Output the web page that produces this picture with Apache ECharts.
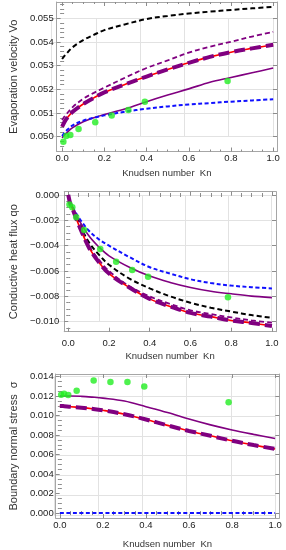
<!DOCTYPE html>
<html><head><meta charset="utf-8">
<script src="https://cdn.jsdelivr.net/npm/echarts@6/dist/echarts.min.js"></script>
<style>html,body{margin:0;padding:0;background:#fff}#c{width:286px;height:550px}</style>
</head><body><div id="c"></div>
<script>
// ---------- data ----------
const knGrid = [0, 0.01, 0.02, 0.05, 0.1, 0.15, 0.2, 0.3, 0.4, 0.5, 0.6, 0.7, 0.8, 0.9, 1.0];
const knData = [0.006, 0.0196, 0.039, 0.078, 0.157, 0.235, 0.314, 0.392, 0.784];

const xTicks = [0, 0.2, 0.4, 0.6, 0.8, 1.0];
const xMinorTicks = [0.05, 0.1, 0.15, 0.25, 0.3, 0.35, 0.45, 0.5, 0.55, 0.65, 0.7, 0.75, 0.85, 0.9, 0.95];

// Panel 1: evaporation velocity
const vTicks = [0.050, 0.051, 0.052, 0.053, 0.054, 0.055];
const vMinorTicks = [0.0496, 0.0498, 0.0502, 0.0504, 0.0506, 0.0508, 0.0512, 0.0514, 0.0516, 0.0518, 0.0522, 0.0524, 0.0526, 0.0528, 0.0532, 0.0534, 0.0536, 0.0538, 0.0542, 0.0544, 0.0546, 0.0548, 0.0552, 0.0554, 0.0556];
const vBlack   = [0.05328, 0.05340, 0.05350, 0.05378, 0.05408, 0.05430, 0.05450, 0.05475, 0.05497, 0.05510, 0.05520, 0.05528, 0.05535, 0.05542, 0.05548];
const vPurDash = [0.05070, 0.05084, 0.05095, 0.05125, 0.05160, 0.05185, 0.05207, 0.05250, 0.05290, 0.05322, 0.05355, 0.05380, 0.05401, 0.05423, 0.05443];
const vRed     = [0.05042, 0.05060, 0.05075, 0.05105, 0.05138, 0.05164, 0.05187, 0.05222, 0.05254, 0.05284, 0.05312, 0.05337, 0.05357, 0.05373, 0.05388];
const vPurple  = [0.04995, 0.05006, 0.05015, 0.05038, 0.05063, 0.05080, 0.05094, 0.05118, 0.05148, 0.05176, 0.05202, 0.05230, 0.05250, 0.05270, 0.05290];
const vBlue    = [0.05003, 0.05015, 0.05025, 0.05048, 0.05068, 0.05080, 0.05090, 0.05106, 0.05118, 0.05128, 0.05136, 0.05142, 0.05148, 0.05153, 0.05158];
const vDots    = [0.04979, 0.05003, 0.05007, 0.05032, 0.05061, 0.05089, 0.05113, 0.05148, 0.05235];

// Panel 2: conductive heat flux
const qTicks = [-0.010, -0.008, -0.006, -0.004, -0.002, 0.000];
const qMinorTicks = [-0.0105, -0.0095, -0.009, -0.0085, -0.0075, -0.007, -0.0065, -0.0055, -0.005, -0.0045, -0.0035, -0.003, -0.0025, -0.0015, -0.001, -0.0005];
const qBlue    = [0, -0.00060, -0.00090, -0.00175, -0.00280, -0.00350, -0.00400, -0.00490, -0.00570, -0.00620, -0.00665, -0.00695, -0.00715, -0.00728, -0.00737];
const qPurple  = [0, -0.00062, -0.00093, -0.00190, -0.00320, -0.00410, -0.00480, -0.00570, -0.00640, -0.00690, -0.00730, -0.00760, -0.00780, -0.00798, -0.00810];
const qBlack   = [0, -0.00065, -0.00098, -0.00210, -0.00370, -0.00470, -0.00550, -0.00660, -0.00737, -0.00800, -0.00850, -0.00890, -0.00920, -0.00948, -0.00970];
const qPurDash = [0, -0.00067, -0.00102, -0.00220, -0.00400, -0.00510, -0.00600, -0.00720, -0.00800, -0.00860, -0.00910, -0.00940, -0.00966, -0.00990, -0.01008];
const qRed     = [0, -0.00070, -0.00106, -0.00230, -0.00410, -0.00530, -0.00620, -0.00730, -0.00820, -0.00880, -0.00930, -0.00960, -0.00990, -0.01010, -0.01034];
const qDots    = [-0.00074, -0.00097, -0.00176, -0.00276, -0.00426, -0.00526, -0.00592, -0.00645, -0.00808];

// Panel 3: boundary normal stress
const sTicks = [0.000, 0.002, 0.004, 0.006, 0.008, 0.010, 0.012, 0.014];
const sMinorTicks = [0.0005, 0.001, 0.0015, 0.0025, 0.003, 0.0035, 0.0045, 0.005, 0.0055, 0.0065, 0.007, 0.0075, 0.0085, 0.009, 0.0095, 0.0105, 0.011, 0.0115, 0.0125, 0.013, 0.0135];
const sPurple  = [0.01202, 0.01202, 0.01202, 0.01202, 0.01198, 0.01190, 0.01180, 0.01150, 0.01092, 0.01032, 0.00965, 0.00905, 0.00853, 0.00808, 0.00766];
const sRed     = [0.01100, 0.01099, 0.01097, 0.01092, 0.01082, 0.01070, 0.01055, 0.01015, 0.00960, 0.00900, 0.00843, 0.00793, 0.00742, 0.00698, 0.00658];
const sBlue    = [0, 0, 0, 0, 0, 0, 0, 0, 0, 0, 0, 0, 0, 0, 0];
const sDots    = [0.01214, 0.01225, 0.01211, 0.01255, 0.01360, 0.01346, 0.01346, 0.01299, 0.01137];

// ---------- layout (pixels) ----------
// frame box, and pixel positions of the first/last major tick on each axis
const panels = [
  { frame: { l: 46, t: 2, r: 277, b: 151.5 }, xPx: [51.7, 273], yPx: [136.7, 18.3],
    xT: xTicks, xM: xMinorTicks, yT: vTicks, yM: vMinorTicks, yStep: 0.001,
    xName: { gap: 16.5, margin: 1.5 }, yName: { text: 'Evaporation velocity Vo', gap: 34, margin: 3 } },
  { frame: { l: 51.7, t: 191.7, r: 276, b: 331.7 }, xPx: [56, 271.7], yPx: [321.7, 195],
    xT: xTicks, xM: xMinorTicks, yT: qTicks, yM: qMinorTicks, yStep: 0.002,
    xName: { gap: 20, margin: 7 }, yName: { text: 'Conductive heat flux qo', gap: 38.5, margin: 5 } },
  { frame: { l: 50, t: 374, r: 279.3, b: 520 }, xPx: [54.3, 275], yPx: [515, 376.7],
    xT: xTicks, xM: xMinorTicks, yT: sTicks, yM: sMinorTicks, yStep: 0.002,
    xName: { gap: 21, margin: 2.5 }, yName: { text: 'Boundary normal stress  \u03C3', gap: 33, margin: 2 } }
];

// ---------- styling ----------
const FONT = 'Liberation Sans';
const FRAME = '#a6a6a6', GRIDC = '#e2e2e2', TICKC = '#8c8c8c';
const PURPLE = '#800080', RED = '#ff0000', BLUE = '#1010ff', BLACK = '#000000', GREEN = '#22ee22';
const fmt3 = v => (v < 0 ? '\u2212' : '') + Math.abs(v).toFixed(3);
const fmt1 = v => v.toFixed(1);

// extend axis range so that major ticks land on given pixels inside the frame
function extent(v0, v1, p0, p1, e0, e1) {
  const k = (v1 - v0) / (p1 - p0);
  return [v0 + (e0 - p0) * k, v0 + (e1 - p0) * k];
}

const grids = [], xAxis = [], yAxis = [];
const NPER = 5; // axes per panel per dimension

function frameAxes(dim, gi, min, max, majors, minors, fmt, o) {
  const base = { type: 'value', gridIndex: gi, min: min, max: max, scale: true };
  const s1 = dim === 'x' ? 'bottom' : 'left', s2 = dim === 'x' ? 'top' : 'right';
  const line = { show: true, onZero: false, lineStyle: { color: FRAME, width: 1 } };
  return [
    Object.assign({}, base, {
      position: s1, name: o.name, nameLocation: 'middle', nameGap: o.nameGap,
      nameTextStyle: { fontFamily: FONT, fontSize: o.nameSize, color: '#333' },
      axisLine: line,
      axisTick: { show: true, inside: true, length: 4, customValues: majors, lineStyle: { color: TICKC } },
      axisLabel: { show: true, customValues: majors, formatter: fmt, margin: o.margin, fontFamily: FONT, fontSize: 9.5, color: '#222' },
      splitLine: { show: false }
    }),
    Object.assign({}, base, {
      position: s1, axisLine: { show: false },
      axisTick: { show: true, inside: true, length: 2, customValues: minors, lineStyle: { color: TICKC } },
      axisLabel: { show: false }, splitLine: { show: false }
    }),
    Object.assign({}, base, {
      position: s2, axisLine: line,
      axisTick: { show: true, inside: true, length: 4, customValues: majors, lineStyle: { color: TICKC } },
      axisLabel: { show: false }, splitLine: { show: false }
    }),
    Object.assign({}, base, {
      position: s2, axisLine: { show: false },
      axisTick: { show: true, inside: true, length: 2, customValues: minors, lineStyle: { color: TICKC } },
      axisLabel: { show: false }, splitLine: { show: false }
    })
  ];
}

function gridAxis(gi, min, max, step) {
  return {
    type: 'value', gridIndex: gi, min: min, max: max, interval: step,
    axisLine: { show: false }, axisTick: { show: false }, axisLabel: { show: false },
    splitLine: { show: true, lineStyle: { color: GRIDC, width: 1 } }
  };
}

panels.forEach((p, i) => {
  const f = p.frame;
  const xT = p.xT, yT = p.yT;
  const x0 = xT[0], x1 = xT[xT.length - 1], y0 = yT[0], y1 = yT[yT.length - 1];
  // outer (frame) grid
  grids.push({ left: f.l, top: f.t, width: f.r - f.l, height: f.b - f.t });
  const xe = extent(x0, x1, p.xPx[0], p.xPx[1], f.l, f.r);
  const ye = extent(y0, y1, p.yPx[0], p.yPx[1], f.b, f.t);
  xAxis.push.apply(xAxis, frameAxes('x', 2 * i, xe[0], xe[1], xT, p.xM, fmt1,
    { name: 'Knudsen number  Kn', nameGap: p.xName.gap, nameSize: 9.5, margin: p.xName.margin }));
  yAxis.push.apply(yAxis, frameAxes('y', 2 * i, ye[0], ye[1], yT, p.yM, fmt3,
    { name: p.yName.text, nameGap: p.yName.gap, nameSize: 11, margin: p.yName.margin }));
  // inner grid for gridlines at major ticks
  grids.push({ left: p.xPx[0], top: p.yPx[1], width: p.xPx[1] - p.xPx[0], height: p.yPx[0] - p.yPx[1] });
  xAxis.push(gridAxis(2 * i + 1, x0, x1, 0.2));
  yAxis.push(gridAxis(2 * i + 1, y0, y1, p.yStep));
});

function curve(gi, ys, color, width, dash, z) {
  return {
    type: 'line', xAxisIndex: gi * NPER, yAxisIndex: gi * NPER,
    data: knGrid.map((k, i) => [k, ys[i]]),
    smooth: 0.35, showSymbol: false, symbol: 'none',
    lineStyle: { color: color, width: width, type: dash || 'solid', cap: 'butt' },
    z: z, silent: true
  };
}
function dots(gi, ys) {
  return {
    type: 'scatter', xAxisIndex: gi * NPER, yAxisIndex: gi * NPER,
    data: knData.map((k, i) => [k, ys[i]]),
    symbol: 'circle', symbolSize: 6.5, itemStyle: { color: GREEN }, z: 10, silent: true
  };
}

const series = [
  // panel 1
  curve(0, vBlack, BLACK, 2, [5, 3], 3),
  curve(0, vPurDash, PURPLE, 1.8, [5, 3], 3),
  curve(0, vRed, RED, 1.6, 'solid', 3),
  curve(0, vRed, PURPLE, 4, [11, 5], 4),
  curve(0, vPurple, PURPLE, 1.6, 'solid', 3),
  curve(0, vBlue, BLUE, 2, [4, 2.5], 3),
  dots(0, vDots),
  // panel 2
  curve(1, qBlue, BLUE, 2, [4, 2.5], 3),
  curve(1, qPurple, PURPLE, 1.6, 'solid', 3),
  curve(1, qBlack, BLACK, 2, [5, 3], 3),
  curve(1, qPurDash, PURPLE, 1.8, [5, 3], 3),
  curve(1, qRed, RED, 1.6, 'solid', 3),
  curve(1, qRed, PURPLE, 4, [11, 5], 4),
  dots(1, qDots),
  // panel 3
  curve(2, sPurple, PURPLE, 1.6, 'solid', 3),
  curve(2, sRed, RED, 1.6, 'solid', 3),
  curve(2, sRed, PURPLE, 4, [11, 5], 4),
  curve(2, sBlue, BLUE, 2, [4, 2.5], 3),
  dots(2, sDots)
];

const chart = echarts.init(document.getElementById('c'), null, { renderer: 'canvas' });
chart.setOption({
  animation: false,
  backgroundColor: '#ffffff',
  grid: grids,
  xAxis: xAxis,
  yAxis: yAxis,
  series: series
});
</script></body></html>
